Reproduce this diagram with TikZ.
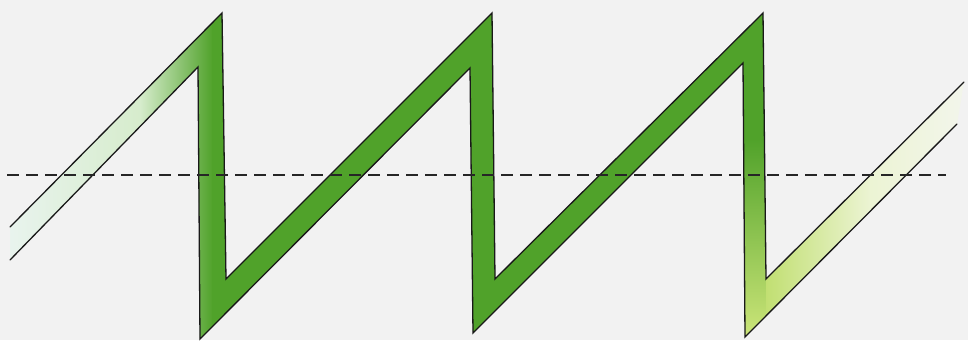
\documentclass[tikz,border=0pt]{standalone}
\usetikzlibrary{calc}
\definecolor{bgc}{RGB}{242,242,242}
\definecolor{bandgreen}{RGB}{80,162,42}
\definecolor{leftend}{RGB}{234,244,240}
\definecolor{leftmid}{RGB}{214,236,204}
\definecolor{yelgreen}{RGB}{206,230,122}
\definecolor{rightmid}{RGB}{236,244,212}
\definecolor{rightend}{RGB}{243,245,236}
\begin{document}
\begin{tikzpicture}[x=1pt,y=-1pt,
  edge/.style={line width=1.3pt, line join=miter, line cap=round, black!90},
  axisline/.style={line width=1.3pt, black!85, dash pattern=on 12pt off 7pt}]
\fill[bgc] (0,0) rectangle (968,340);
\useasboundingbox (0,0) rectangle (968,340);
% edge A (upper / right side)
\coordinate (a0) at (10,227);
\coordinate (a1) at (222,13);
\coordinate (a2) at (226,279);
\coordinate (a3) at (492,13);
\coordinate (a4) at (495,279);
\coordinate (a5) at (763,13);
\coordinate (a6) at (766,279);
\coordinate (a7) at (964,82);
% edge B (lower / left side)
\coordinate (b0) at (10,260);
\coordinate (b1) at (198,67);
\coordinate (b2) at (200,339);
\coordinate (b3) at (470,68);
\coordinate (b4) at (473,333);
\coordinate (b5) at (743,63);
\coordinate (b6) at (745,337);
\coordinate (b7) at (957,124);
\begin{scope}
  \clip (a0) -- (a1) -- (a2) -- (a3) -- (a4) -- (a5) -- (a6) -- (a7)
        -- (b7) -- (b6) -- (b5) -- (b4) -- (b3) -- (b2) -- (b1) -- (b0) -- cycle;
  \shade[left color=leftend, right color=leftmid] (0,0) rectangle (141,340);
  \shade[left color=leftmid, right color=bandgreen] (140,0) rectangle (213,340);
  \fill[bandgreen] (212,0) rectangle (741,340);
  \fill[bandgreen] (740,0) rectangle (767,140);
  \shade[top color=bandgreen, bottom color=yelgreen] (740,139) rectangle (767,340);
  \shade[left color=yelgreen!90!bandgreen, right color=rightmid] (766,0) rectangle (871,340);
  \shade[left color=rightmid, right color=rightend] (870,0) rectangle (968,340);
\end{scope}
\draw[edge] (a0) -- (a1) -- (a2) -- (a3) -- (a4) -- (a5) -- (a6) -- (a7);
\draw[edge] (b0) -- (b1) -- (b2) -- (b3) -- (b4) -- (b5) -- (b6) -- (b7);
\coordinate (d0) at (7,175);
\coordinate (d1) at (946,175);
\draw[axisline] (d0) -- (d1);
\end{tikzpicture}
\end{document}
